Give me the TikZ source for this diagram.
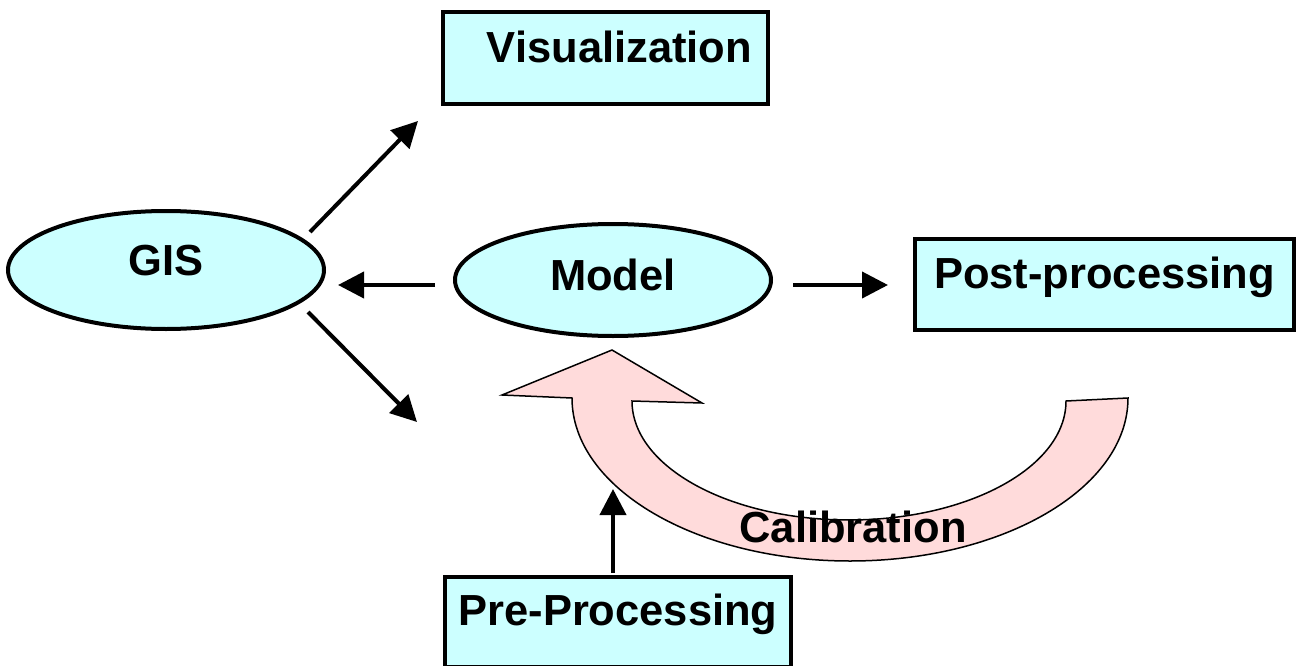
\documentclass[tikz,border=0pt]{standalone}
\usepackage{fontspec}
\setmainfont{Liberation Sans}
\usepackage{tikz}
\usetikzlibrary{positioning}
\usetikzlibrary{shapes.geometric}
\usetikzlibrary{arrows.meta}
\usetikzlibrary{calc}
\usepackage{xcolor}
\definecolor{boxcyan}{RGB}{204,255,255}
\definecolor{calpink}{RGB}{255,219,219}

\begin{document}
\begin{tikzpicture}[
  x=1pt, y=-1pt,
  font=\fontsize{43.5pt}{52pt}\selectfont\bfseries,
  blockbox/.style={draw, line width=4pt, fill=boxcyan, rectangle, inner sep=0pt},
  blob/.style={draw, line width=4pt, fill=boxcyan, ellipse, inner sep=0pt,
    minimum width=316pt, text height=31pt},
  link/.style={line width=4pt, -{Triangle[length=26pt,width=26pt]}},
  bigarrow/.style={draw, line width=1.5pt, fill=calpink, line join=miter}
]
\useasboundingbox (0,0) rectangle (1298,666);

% Nodes
\node[blockbox, minimum width=325pt, text height=51pt, text depth=41pt] (vis) at (605.5,58) {\hspace*{28pt}Visualization};
\node[blob, minimum height=118pt, text depth=21pt] (gis) at (166,270) {GIS};
\node[blob, minimum height=112pt, text depth=11pt] (model) at (613,280) {Model};
\node[blockbox, minimum width=379pt, text height=49pt, text depth=42pt] (post) at (1104.5,284.5) {Post-processing};
\node[blockbox, minimum width=346pt, text height=48pt, text depth=42pt] (pre) at (618,622) {Pre-Processing};

% Calibration loop
\draw[bigarrow]
  (572,398) arc[start angle=180, end angle=0, x radius=278, y radius=163]
  -- (1066,401) arc[start angle=0, end angle=180, x radius=217, y radius=119]
  -- (702,403) -- (612,350) -- (502,395) -- cycle;
\node[anchor=base] (calib) at (853,542) {Calibration};

% Connectors
\coordinate (gisout) at (417,422);
\coordinate (calin) at (613,489);
\draw[link] ($(gis.center)+(144,-38)$) -- ($(vis.south west)+(-23,15)$);
\draw[link] ($(gis.center)+(142,42)$) -- (gisout);
\draw[link] ($(model.west)+(-18,5)$) -- ($(gis.east |- model.west)+(12,5)$);
\draw[link] ($(model.east)+(20,5)$) -- ($(post.west |- model.east)+(-25,5)$);
\draw[link] ($(pre.north)+(-5,-2)$) -- (calin);

\end{tikzpicture}
\end{document}
